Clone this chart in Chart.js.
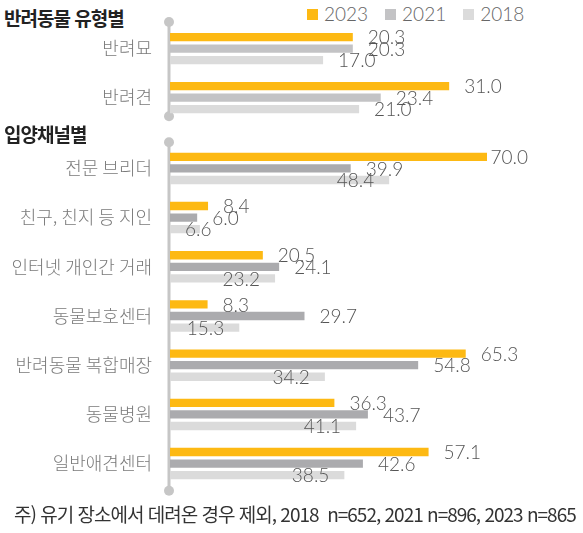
<!DOCTYPE html>
<html lang="ko">
<head>
<meta charset="utf-8">
<script src="https://cdn.jsdelivr.net/npm/chart.js@4/dist/chart.umd.min.js"></script>
<style>
    body { margin: 0; background: #fff; width: 583px; height: 533px; position: relative; overflow: hidden; }
    canvas { position: absolute; left: 0; }
    .heading { position: absolute; left: 4px; font: bold 19px "Noto Sans CJK KR"; line-height: 19px; letter-spacing: -1px; color: #222; }
    #legend { position: absolute; left: 307px; top: 4px; display: flex; font: 300 19px Lato; color: #666; line-height: 19px; }
    #legend .item { display: flex; align-items: center; margin-right: 17px; }
    #legend .box { width: 11px; height: 11px; margin-right: 6px; margin-top: 1px; }
    #note { position: absolute; left: 14px; top: 504px; font: 19px "Noto Sans CJK KR"; line-height: 19px; letter-spacing: -1px; color: #333; white-space: nowrap; }
</style>
</head>
<body>
<div class="heading" style="top:8px">반려동물 유형별</div>
<div id="legend"></div>
<canvas id="typeChart" width="583" height="133" style="top:0"></canvas>
<div class="heading" style="top:124px">입양채널별</div>
<canvas id="channelChart" width="583" height="366" style="top:133px"></canvas>
<div id="note">주) 유기 장소에서 데려온 경우 제외, 2018&nbsp; n=652, 2021 n=896, 2023 n=865</div>

<script>
// 연도 (시리즈)
const years = ['2023', '2021', '2018'];

// 반려동물 유형별
const petTypes = ['반려묘', '반려견'];
const type2023 = [20.3, 31.0];
const type2021 = [20.3, 23.4];
const type2018 = [17.0, 21.0];

// 입양채널별
const channels = ['전문 브리더', '친구, 친지 등 지인', '인터넷 개인간 거래', '동물보호센터', '반려동물 복합매장', '동물병원', '일반애견센터'];
const channel2023 = [70.0, 8.4, 20.5, 8.3, 65.3, 36.3, 57.1];
const channel2021 = [39.9, 6.0, 24.1, 29.7, 54.8, 43.7, 42.6];
const channel2018 = [48.4, 6.6, 23.2, 15.3, 34.2, 41.1, 38.5];

const FONT_KR = '"Noto Sans CJK KR"';

// 세로 축선 + 양 끝 동그라미
const axisLine = {
    id: 'axisLine',
    beforeDatasetsDraw(chart, args, opts) {
        const { ctx, chartArea } = chart;
        const x = chartArea.left - 1;
        const y1 = chartArea.top + opts.top;
        const y2 = chartArea.bottom + opts.bottom;
        ctx.save();
        ctx.strokeStyle = opts.color;
        ctx.fillStyle = opts.color;
        ctx.lineWidth = 3;
        ctx.beginPath();
        ctx.moveTo(x, y1);
        ctx.lineTo(x, y2);
        ctx.stroke();
        [y1, y2].forEach(y => {
            ctx.beginPath();
            ctx.arc(x, y, 5, 0, Math.PI * 2);
            ctx.fill();
        });
        ctx.restore();
    }
};

// 막대 끝 값 라벨
const valueLabels = {
    id: 'valueLabels',
    afterDatasetsDraw(chart, args, opts) {
        const ctx = chart.ctx;
        const area = chart.chartArea;
        ctx.save();
        ctx.font = opts.font;
        ctx.fillStyle = opts.color;
        ctx.textBaseline = 'middle';
        ctx.textAlign = 'left';
        chart.data.datasets.forEach((ds, i) => {
            chart.getDatasetMeta(i).data.forEach((bar, j) => {
                let text = ds.data[j].toFixed(1);
                let w = ctx.measureText(text).width;
                let x;
                if (ds.labelInside) {
                    // 막대 안쪽 끝, 축선과 겹치면 밀어냄
                    x = Math.max(bar.x - opts.gap - w, area.left + opts.gap);
                } else {
                    x = Math.min(bar.x + opts.gap, area.right + opts.overflow - w);
                }
                ctx.fillText(text, x, bar.y + 1);
            });
        });
        ctx.restore();
    }
};

function makeChart(canvasId, labels, series, colors, xMax, catPct, padding, ends, insideLast) {
    let datasets = series.map((values, i) => ({
        label: years[i],
        data: values,
        backgroundColor: colors[i],
        categoryPercentage: catPct,
        barPercentage: 0.72,
        labelInside: insideLast && i === series.length - 1
    }));

    return new Chart(document.getElementById(canvasId), {
        type: 'bar',
        data: { labels: labels, datasets: datasets },
        options: {
            indexAxis: 'y',
            responsive: false,
            animation: false,
            layout: { padding: { top: padding[0], bottom: padding[1], left: 0, right: 96 } },
            scales: {
                x: { display: false, min: 0, max: xMax },
                y: {
                    afterFit: s => { s.width = 170; },
                    // tickLength 로 라벨 간격 (ticks.padding 은 세로 여백까지 늘림)
                    grid: { display: false, drawTicks: true, tickLength: 18 },
                    border: { display: false },
                    ticks: { padding: 0, color: '#7a7a7a', font: { family: FONT_KR, size: 18, weight: '300' } }
                }
            },
            plugins: {
                legend: { display: false },
                tooltip: { enabled: false },
                axisLine: { color: '#c6c6c6', top: ends[0], bottom: ends[1] },
                valueLabels: { font: '300 19px Lato', color: '#555', gap: 15, overflow: 41 }
            }
        },
        plugins: [axisLine, valueLabels]
    });
}

let typeChart = makeChart('typeChart', petTypes, [type2023, type2021, type2018],
    ['#fdb913', '#c3c3c5', '#dbdbdb'], 35.2, 0.70, [24, 2], [-2, -6], false);

let channelChart = makeChart('channelChart', channels, [channel2023, channel2021, channel2018],
    ['#fdb913', '#ababae', '#dbdbdb'], 70, 0.706, [4.5, 4.5], [-1.5, 2.5], true);

// 범례
let legend = document.getElementById('legend');
typeChart.data.datasets.forEach(ds => {
    legend.insertAdjacentHTML('beforeend',
        `<div class="item"><div class="box" style="background:${ds.backgroundColor}"></div>${ds.label}</div>`);
});
</script>
</body>
</html>
